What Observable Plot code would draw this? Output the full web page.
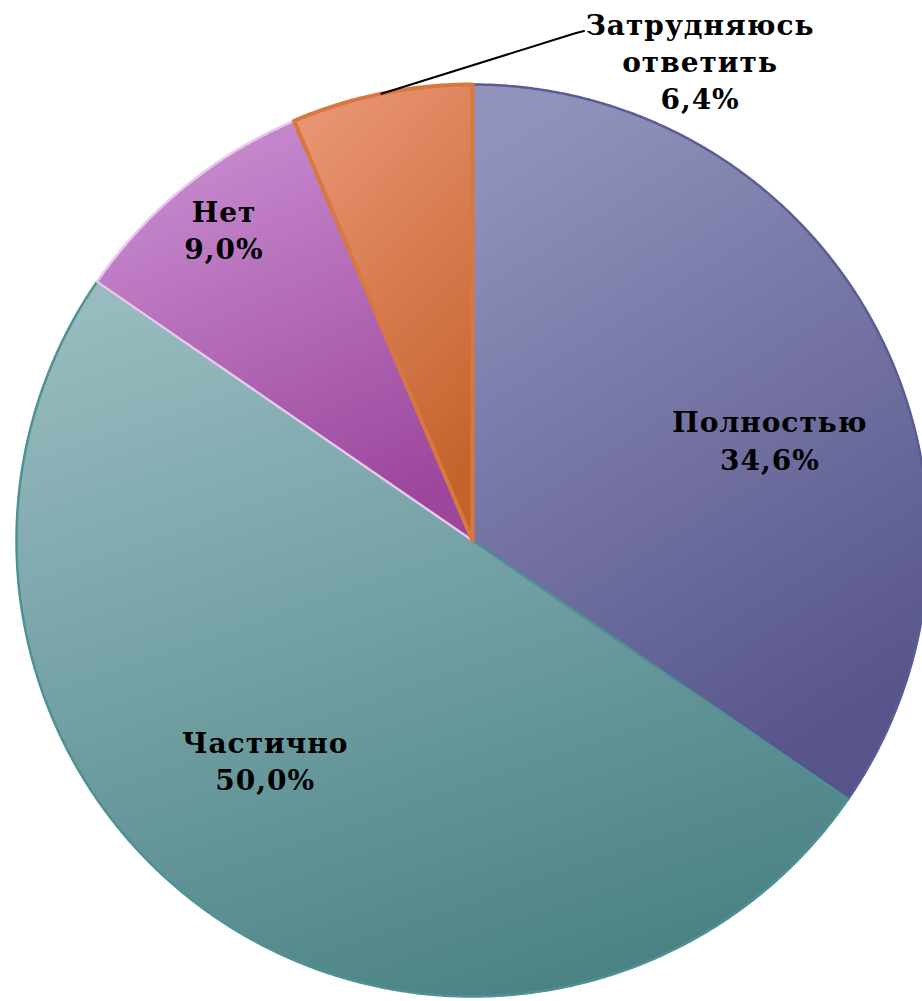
<!DOCTYPE html>
<html><head><meta charset="utf-8">
<script src="https://cdn.jsdelivr.net/npm/d3@7"></script>
<script src="https://cdn.jsdelivr.net/npm/@observablehq/plot@0.6"></script>
<style>
html,body{margin:0;padding:0;background:#fff;}
#chart svg{display:block;}
#chart svg text{letter-spacing:1px;}
</style>
</head><body><div id="chart"></div>
<script>
// ---- data ----
const categories = ["Полностью", "Частично", "Нет", "Затрудняюсь\nответить"];
const values = [34.6, 50.0, 9.0, 6.4];
// ---- styling / layout (not data) ----
const gradTop = ["#9293bd", "#97bbbf", "#ca8fd2", "#ea9575"];
const gradBot = ["#56548a", "#4b8385", "#9c469c", "#c4622a"];
const edge = ["#5c5c94", "#4f9294", "#e8c8ec", "#d8773f"];
const edgeW = [2.5, 2.5, 2.5, 4];
// label placement in polar terms: radius fraction, angle nudge (deg)
const labelR = [0.687, 0.666, 0.869, 1.160];
const labelDA = [9.4, 8.5, 0.4, 37];

const W = 922, H = 1001, CX = 472, CY = 540, R = 456;
const fmt = v => v.toFixed(1).replace(".", ",") + "%";

const arcs = d3.pie().sort(null).value(d => d)(values);
const pt = (a, r) => [r * Math.sin(a), r * Math.cos(a)];

const marks = [];
arcs.forEach((a, i) => {
  const pts = [[0, 0]];
  const n = Math.max(4, Math.ceil((a.endAngle - a.startAngle) / 0.005));
  for (let k = 0; k <= n; k++) {
    const t = a.startAngle + (a.endAngle - a.startAngle) * k / n;
    pts.push(pt(t, 1));
  }
  pts.push([0, 0]);
  marks.push(Plot.line(pts, {
    x: d => d[0], y: d => d[1],
    fill: `url(#g${i})`, stroke: edge[i], strokeWidth: edgeW[i],
    strokeLinejoin: "round", curve: "linear"
  }));
});

const labels = arcs.map((a, i) => {
  const mid = (a.startAngle + a.endAngle) / 2 + labelDA[i] * Math.PI / 180;
  const [x, y] = pt(mid, labelR[i]);
  return {x, y, text: categories[i] + "\n" + fmt(values[i])};
});

// leader line for the small slice: from arc midpoint to label
const li = 3;
const lmid = (arcs[li].startAngle + arcs[li].endAngle) / 2;
const p0 = pt(lmid, 1.0);
const lp = labels[li];
const leader = [p0, [lp.x - 124 / R, lp.y + 30 / R], [lp.x - 116 / R, lp.y + 32 / R]];
marks.push(Plot.line(leader, {x: d => d[0], y: d => d[1], stroke: "#000", strokeWidth: 2}));

marks.push(Plot.text(labels, {
  x: "x", y: "y", text: "text", dy: -3,
  fontSize: 28, fontWeight: "bold", fontFamily: "DejaVu Serif",
  fill: "#000", lineHeight: 1.33, textAnchor: "middle"
}));

const svg = Plot.plot({
  width: W, height: H,
  margin: 0,
  x: {domain: [-CX / R, (W - CX) / R], range: [0, W], axis: null},
  y: {domain: [-(H - CY) / R, CY / R], range: [H, 0], axis: null},
  style: {background: "#fff", overflow: "hidden"},
  marks
});

const ns = "http://www.w3.org/2000/svg";
const defs = document.createElementNS(ns, "defs");
gradTop.forEach((c, i) => {
  const g = document.createElementNS(ns, "linearGradient");
  g.setAttribute("id", "g" + i);
  g.setAttribute("x1", "0.2"); g.setAttribute("y1", "0");
  g.setAttribute("x2", "0.6"); g.setAttribute("y2", "1");
  const s1 = document.createElementNS(ns, "stop");
  s1.setAttribute("offset", "0"); s1.setAttribute("stop-color", c);
  const s2 = document.createElementNS(ns, "stop");
  s2.setAttribute("offset", "1"); s2.setAttribute("stop-color", gradBot[i]);
  g.appendChild(s1); g.appendChild(s2);
  defs.appendChild(g);
});
svg.insertBefore(defs, svg.firstChild);
document.getElementById("chart").appendChild(svg);
</script>
</body></html>
